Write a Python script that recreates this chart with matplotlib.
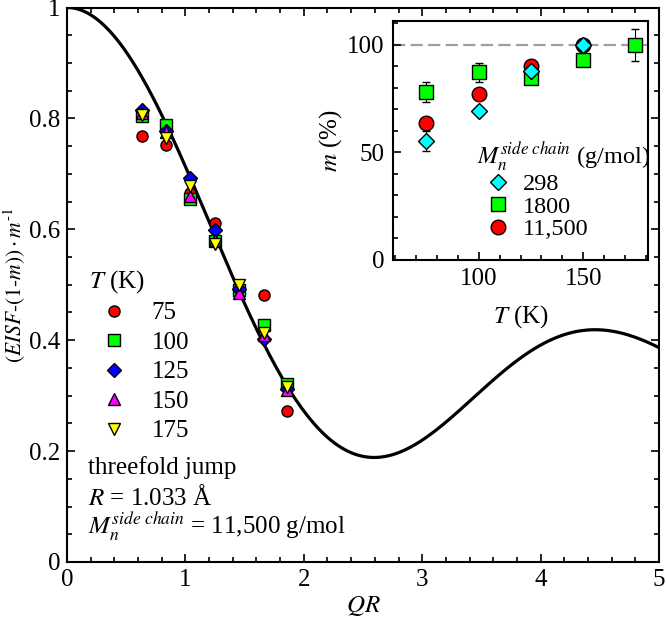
import numpy as np
import matplotlib
matplotlib.use("Agg")
import matplotlib.pyplot as plt
from matplotlib.ticker import MultipleLocator

plt.rcParams['font.family'] = ['Liberation Serif', 'DejaVu Serif']
plt.rcParams['mathtext.fontset'] = 'stix'
plt.rcParams['font.size'] = 18

# main panel data: QR positions and (EISF-(1-m))/m per temperature
qr = [0.63, 0.835, 1.04, 1.25, 1.45, 1.66, 1.86]
t_labels = ['75', '100', '125', '150', '175']
eisf_75 = [0.768, 0.752, 0.666, 0.612, 0.49, 0.482, 0.272]
eisf_100 = [0.805, 0.788, 0.655, 0.578, 0.49, 0.428, 0.321]
eisf_125 = [0.815, 0.778, 0.692, 0.598, 0.492, 0.403, 0.312]
eisf_150 = [0.81, 0.775, 0.66, 0.58, 0.485, 0.41, 0.31]
eisf_175 = [0.806, 0.765, 0.678, 0.574, 0.499, 0.413, 0.316]

# inset data: m (%) vs T for three side chain Mn
t_inset = [75, 100, 125, 150, 175]
m_298 = [55.3, 69.4, 88.0, 100.0]
m_298_err = [4.5, 1.5, 1.5, 2.5]
m_1800 = [78.2, 87.1, 84.5, 93.0, 100.0]
m_1800_err = [4.7, 4.3, 1.5, 1.5, 7.5]
m_11500 = [63.5, 77.0, 89.9, 100.0]
m_11500_err = [2.0, 1.5, 1.5, 1.5]
mn_labels = ['298', '1800', '11,500']

# threefold jump model curve
x = np.linspace(0, 5, 600)
arg = np.sqrt(3) * np.where(x == 0, 1e-9, x)
eisf_model = (1 + 2 * np.sin(arg) / arg) / 3

fig = plt.figure(figsize=(6.66, 6.33), dpi=100)
ax = fig.add_axes([67/666, 71/633, 592/666, 554.5/633])

ax.plot(x, eisf_model, color='black', lw=2.3, zorder=2)

series = [
    (eisf_75, 'o', '#ff0000', 8),
    (eisf_100, 's', '#00ff00', 8),
    (eisf_125, 'D', '#0000ff', 7),
    (eisf_150, '^', '#ff00ff', 8),
    (eisf_175, 'v', '#ffff00', 8),
]
handles = []
for (vals, mk, col, ms), lab in zip(series, t_labels):
    h, = ax.plot(qr, vals, ls='none', marker=mk, ms=ms, mfc=col, mec='black',
                 mew=1, zorder=3, label=lab)
    handles.append(h)

ax.set_xlim(0, 5)
ax.set_ylim(0, 1)
ax.xaxis.set_major_locator(MultipleLocator(1))
ax.xaxis.set_minor_locator(MultipleLocator(0.2))
ax.yaxis.set_minor_locator(MultipleLocator(0.05))
ax.set_yticks([0, 0.2, 0.4, 0.6, 0.8, 1])
ax.set_yticklabels(['0', '0.2', '0.4', '0.6', '0.8', '1'])
ax.tick_params(which='both', direction='in', top=True, right=True, width=1.2)
ax.tick_params(which='major', length=6, pad=5)
ax.tick_params(which='minor', length=3.5)
for s in ax.spines.values():
    s.set_linewidth(1.5)
ax.set_xlabel('$QR$', fontsize=18, labelpad=2)
ax.set_ylabel(r'$(EISF\text{-}(1\text{-}m))\cdot m^{\text{-}1}$', fontsize=15.5)
ax.yaxis.set_label_coords(-0.066, 0.5)

ax.legend(handles=handles, title='$T$ (K)', loc='upper left',
          bbox_to_anchor=(0.037, 0.53), frameon=False, borderpad=0,
          borderaxespad=0, handlelength=2.0, handletextpad=0.5,
          labelspacing=0.28, fontsize=18, title_fontsize=18,
          alignment='left')

ax.text(0.035, 0.171, 'threefold jump', transform=ax.transAxes, va='center')
ax.text(0.035, 0.117, '$R$ = 1.033 Å', transform=ax.transAxes, va='center')
ax.text(0.035, 0.063, r'$M_n^{\mathit{side\ chain}}$ = 11,500 g/mol',
        transform=ax.transAxes, va='center')

# inset
ins = fig.add_axes([393/666, 373/633, 255/666, 239/633])
ins.axhline(100, color='#9e9e9e', lw=1.6, dashes=(5.5, 2.4), zorder=1)
ebkw = dict(mec='black', mew=1, ecolor='black', elinewidth=0.8, capsize=3)
ins.errorbar(t_inset, m_1800, yerr=m_1800_err, fmt='s', ms=10.5, mfc='#00ff00',
             label=mn_labels[1], zorder=3, **ebkw)
ins.errorbar(t_inset[:4], m_11500, yerr=m_11500_err, fmt='o', ms=10.5, mfc='#ff0000',
             label=mn_labels[2], zorder=4, **ebkw)
ins.errorbar(t_inset[:4], m_298, yerr=m_298_err, fmt='D', ms=8.5, mfc='#00ffff',
             label=mn_labels[0], zorder=5, **ebkw)
ins.set_xlim(59, 181)
ins.set_ylim(0, 111)
ins.xaxis.set_major_locator(MultipleLocator(50))
ins.xaxis.set_minor_locator(MultipleLocator(10))
ins.yaxis.set_major_locator(MultipleLocator(50))
ins.yaxis.set_minor_locator(MultipleLocator(10))
ins.tick_params(which='both', direction='in', width=1.2)
ins.tick_params(which='major', length=6, pad=6)
ins.tick_params(which='minor', length=3.5)
for s in ins.spines.values():
    s.set_linewidth(1.5)
ins.set_xlabel('$T$ (K)', labelpad=9)
ins.set_ylabel('$m$ (%)', labelpad=2)

h, l = ins.get_legend_handles_labels()
order = [2, 0, 1]
ins.legend([h[i][0] for i in order], [l[i] for i in order],
           title=r'$M_n^{\mathit{side\ chain}}$ (g/mol)', loc='upper left',
           bbox_to_anchor=(0.33, 0.5), frameon=False, borderpad=0,
           borderaxespad=0, handlelength=1.7, handletextpad=0.2,
           labelspacing=0.02, fontsize=17.5, title_fontsize=17.5, alignment='left')

fig.savefig('out.png', dpi=100)
